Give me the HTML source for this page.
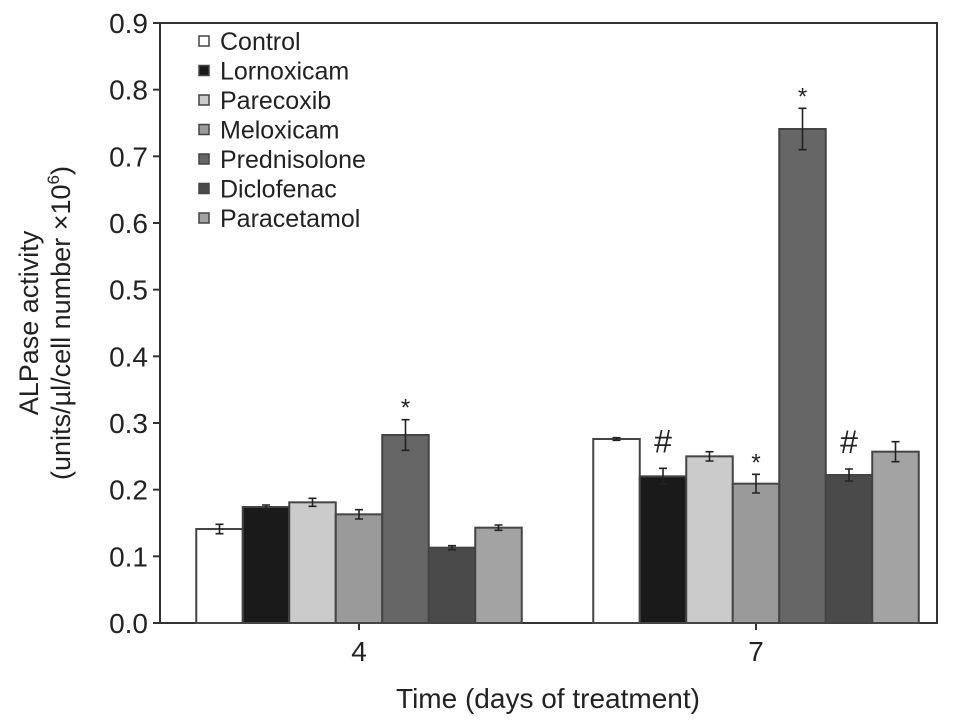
<!DOCTYPE html>
<html><head><meta charset="utf-8"><style>
body{margin:0;background:#fff;}
svg{display:block;font-family:"Liberation Sans",Arial,sans-serif;}
</style></head><body>
<svg id="chart" width="969" height="726">
<g id="axes"></g><g id="bars"></g><g id="legend"></g>
<text x="548" y="708" font-size="28" text-anchor="middle" fill="#222">Time (days of treatment)</text>
<g transform="translate(38,323) rotate(-90)">
<text x="0" y="0" font-size="27" text-anchor="middle" fill="#222">ALPase activity</text>
<text x="0" y="32" font-size="27" text-anchor="middle" fill="#222">(units/µl/cell number ×10<tspan font-size="17" dy="-11">6</tspan><tspan dy="11">)</tspan></text>
</g>
</svg>
<script>
const categories=["4","7"];
const seriesNames=["Control","Lornoxicam","Parecoxib","Meloxicam","Prednisolone","Diclofenac","Paracetamol"];
const day4=[0.141,0.174,0.181,0.163,0.282,0.113,0.143];
const day4Err=[0.007,0.003,0.006,0.007,0.023,0.003,0.004];
const day7=[0.276,0.220,0.250,0.209,0.741,0.222,0.257];
const day7Err=[0.002,0.012,0.007,0.014,0.031,0.009,0.015];
const day4Marks=["","","","","*","",""];
const day7Marks=["","#","","*","*","#",""];
const yTicks=[0,0.1,0.2,0.3,0.4,0.5,0.6,0.7,0.8,0.9];
const colors=["#ffffff","#1a1a1a","#cbcbcb","#9a9a9a","#666666","#4a4a4a","#a3a3a3"];
const NS="http://www.w3.org/2000/svg";
const L=160,R=937,T=23,B=623,YMAX=0.9;
const y=v=>B-v/YMAX*(B-T);
const groupCenter=i=>359+397*i;
const BW=46.5;
function mk(t,a,p){const e=document.createElementNS(NS,t);for(const k in a)e.setAttribute(k,a[k]);p.appendChild(e);return e;}
const ax=document.getElementById('axes');
const frame=mk('rect',{x:L,y:T,width:R-L,height:B-T,fill:'none',stroke:'#333','stroke-width':2},ax);


yTicks.forEach(t=>{
 const ln=mk('line',{x1:L-7,x2:L,y1:y(t),y2:y(t),stroke:'#333','stroke-width':2},ax);
 
 
 const tx=mk('text',{x:L-12,y:y(t)+10,'font-size':28,'text-anchor':'end',fill:'#222'},ax);
 tx.textContent=t.toFixed(1);
 
 
});
categories.forEach((c,i)=>{
 const ln=mk('line',{x1:groupCenter(i),x2:groupCenter(i),y1:B,y2:B+7,stroke:'#333','stroke-width':2},ax);
 
 
 const tx=mk('text',{x:groupCenter(i),y:B+38,'font-size':28,'text-anchor':'middle',fill:'#222'},ax);
 tx.textContent=c;
 
 
});
const bg=document.getElementById('bars');
[[day4,day4Err,day4Marks],[day7,day7Err,day7Marks]].forEach((g,gi)=>{
 const [vals,errs,marks]=g;
 vals.forEach((v,si)=>{
  const x0=groupCenter(gi)-3.5*BW+si*BW;
  const r=mk('rect',{x:x0,y:y(v),width:BW,height:B-y(v),fill:colors[si],stroke:'#444','stroke-width':2},bg);
  
  
  const cx=x0+BW/2,e=errs[si];
  const eb=mk('path',{d:`M${cx},${y(v+e)}V${y(v-e)}M${cx-4},${y(v+e)}H${cx+4}M${cx-4},${y(v-e)}H${cx+4}`,stroke:'#222','stroke-width':1.6,fill:'none'},bg);
  
  
  if(marks[si]){
   const star=marks[si]==='*';
   const m=mk('text',{x:cx,y:y(v+e)-(star?4:16),'font-size':star?24:32,'text-anchor':'middle',fill:'#222'},bg);
   m.textContent=marks[si];
   
   
  }
 });
});
const lg=document.getElementById('legend');
seriesNames.forEach((n,i)=>{
 const yy=41+i*29.5;
 const s=mk('rect',{x:199,y:yy-5,width:10,height:10,fill:colors[i],stroke:'#444','stroke-width':1.5},lg);
 
 
 const t=mk('text',{x:220,y:yy+9,'font-size':25,fill:'#222'},lg);
 t.textContent=n;
 
 
});
</script>
</body></html>
